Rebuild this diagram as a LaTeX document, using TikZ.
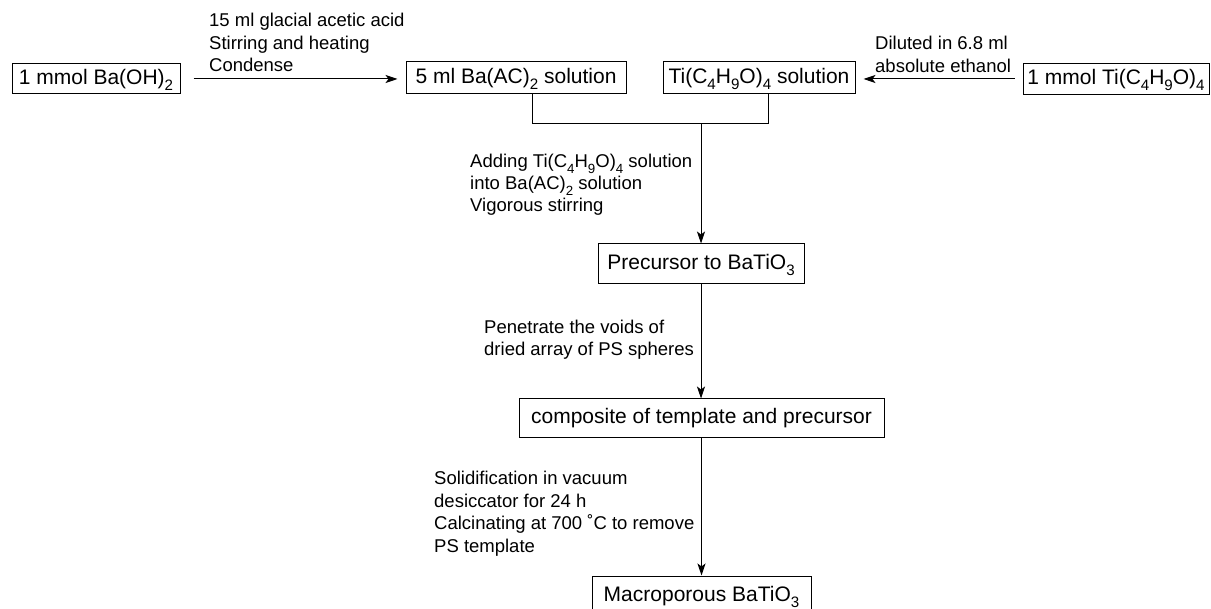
\documentclass[tikz,border=0pt]{standalone}
\usepackage{fontspec}
\setmainfont{Liberation Sans}
\usetikzlibrary{arrows.meta}
\newcommand{\sbs}[1]{\raisebox{-0.3em}{\scalebox{0.72}{#1}}}
\tikzset{
  box/.style={draw, line width=1pt, inner sep=0pt, text height=15pt, text depth=4pt,
    font=\fontsize{21}{25}\selectfont},
  lbl/.style={inner sep=0pt, anchor=base west, font=\fontsize{18.5}{22.3}\selectfont},
  conn/.style={line width=1pt},
  arr/.style={line width=1pt, -{Stealth[length=12pt,width=8pt,inset=3pt]}}
}
\begin{document}
\begin{tikzpicture}[x=1pt,y=-1pt]
\useasboundingbox (0,0) rectangle (1211,609);
\clip (0,0) rectangle (1211,609);
% boxes
\node[box, minimum width=168pt, minimum height=30pt] (ba) at (96,79) {1 mmol Ba(OH)\sbs{2}};
\node[box, minimum width=220pt, minimum height=32pt] (bac) at (516,78) {5 ml Ba(AC)\sbs{2} solution};
\node[box, minimum width=192pt, minimum height=32pt] (tis) at (759,78) {Ti(C\sbs{4}H\sbs{9}O)\sbs{4} solution};
\node[box, minimum width=186pt, minimum height=31pt] (ti) at (1116,79) {1 mmol Ti(C\sbs{4}H\sbs{9}O)\sbs{4}};
\node[box, minimum width=206pt, minimum height=40pt] (pre) at (701,264) {Precursor to BaTiO\sbs{3}};
\node[box, minimum width=365pt, minimum height=39pt] (comp) at (701.5,418.5) {composite of template and precursor};
\node[box, minimum width=219pt, minimum height=40pt] (mac) at (701.5,596) {Macroporous BaTiO\sbs{3}};
% connectors
\draw[arr, shorten <=13pt, shorten >=8pt] (ba.east) -- (ba.east -| bac.west);
\draw[arr, shorten <=8pt, shorten >=8pt] (ti.west) -- (ti.west -| tis.east);
\coordinate (jl) at (532,124);
\coordinate (jr) at (768,124);
\coordinate (jm) at (701,124);
\draw[conn] (bac.south -| jl) -- (jl) -- (jr) -- (tis.south -| jr);
\draw[arr] (jm) -- (pre.north);
\draw[arr] (pre.south) -- (pre.south |- comp.north);
\draw[arr] (comp.south) -- (comp.south |- mac.north);
% labels
\node[lbl] (l1) at (209,27) {\vtop{\baselineskip=22.5pt\hbox{15 ml glacial acetic acid}\hbox{Stirring and heating}\hbox{Condense}}};
\node[lbl] (l2) at (875,50) {\vtop{\baselineskip=22.5pt\hbox{Diluted in 6.8 ml}\hbox{absolute ethanol}}};
\node[lbl] (l3) at (470,168) {\vtop{\baselineskip=21.7pt\hbox{Adding Ti(C\sbs{4}H\sbs{9}O)\sbs{4} solution}\hbox{into Ba(AC)\sbs{2} solution}\hbox{Vigorous stirring}}};
\node[lbl] (l4) at (484,334) {\vtop{\baselineskip=22pt\hbox{Penetrate the voids of}\hbox{dried array of PS spheres}}};
\node[lbl] (l5) at (434,485) {\vtop{\baselineskip=22.4pt\hbox{Solidification in vacuum}\hbox{desiccator for 24 h}\hbox{Calcinating at 700 ˚C to remove}\hbox{PS template}}};
\end{tikzpicture}
\end{document}
